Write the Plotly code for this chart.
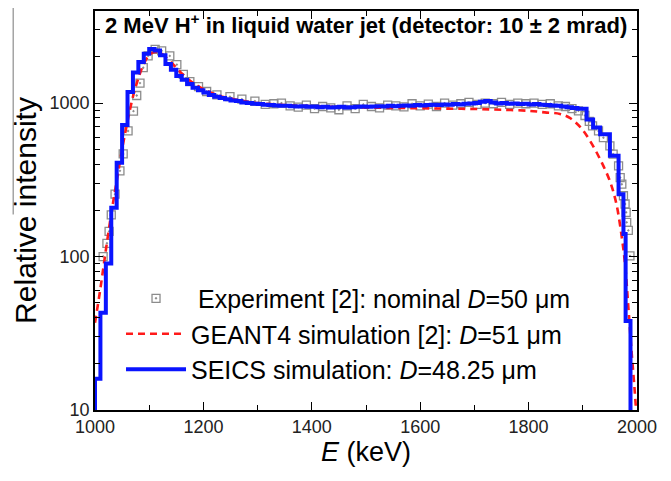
import plotly.graph_objects as go

# ---------------- data ----------------
# Experiment [2] (gray open squares)
exp_e = [1015, 1022, 1026, 1030, 1037, 1046, 1052, 1061, 1071, 1077, 1083, 1089, 1098,
         1111, 1123, 1138, 1151, 1163, 1175, 1191, 1206, 1225, 1249, 1271, 1295, 1314,
         1330, 1344, 1360, 1375, 1390, 1405, 1420, 1435, 1450, 1465, 1480, 1495, 1510,
         1525, 1540, 1555, 1570, 1585, 1600, 1615, 1630, 1645, 1660, 1675, 1690, 1705,
         1720, 1735, 1750, 1765, 1780, 1795, 1810, 1825, 1840, 1855, 1868, 1880, 1892,
         1904, 1912, 1918, 1929, 1938, 1950, 1956, 1966, 1969, 1972, 1975, 1978, 1980,
         1981, 1984, 1987]
exp_v = [100, 122, 146, 187, 255, 362, 466, 658, 886, 1120, 1350, 1700, 2030,
         2240, 2190, 2030, 1780, 1540, 1380, 1280, 1190, 1130, 1100, 1060, 1030, 980,
         990, 1000, 960, 940, 970, 920, 950, 930, 905, 960, 920, 980, 950,
         930, 970, 960, 945, 990, 960, 985, 950, 1000, 970, 990, 1010, 980,
         1000, 990, 1010, 980, 1000, 990, 1000, 980, 990, 960, 950, 920, 890,
         830, 760, 710, 658, 595, 526, 465, 390, 327, 296, 249, 220, 194,
         167, 148, 101]

# GEANT4 simulation [2] (red dashed)
g4_e = [1000, 1010, 1020, 1030, 1040, 1050, 1060, 1070, 1080, 1090, 1100, 1110, 1120,
        1130, 1140, 1150, 1160, 1170, 1180, 1190, 1200, 1225, 1250, 1275, 1300, 1350,
        1400, 1450, 1500, 1550, 1600, 1650, 1700, 1750, 1800, 1830, 1858, 1876, 1895,
        1913, 1932, 1950, 1962, 1972, 1978, 1984, 1990, 1996, 2000]
g4_v = [37, 62, 110, 190, 310, 500, 760, 1100, 1450, 1800, 2050, 2150, 2130,
        2000, 1850, 1700, 1560, 1450, 1360, 1290, 1230, 1130, 1070, 1030, 1000, 970,
        955, 945, 935, 930, 925, 920, 915, 905, 890, 870, 850, 800, 700,
        570, 430, 310, 220, 133, 89, 47, 24, 13, 8]

# SEICS simulation (blue histogram): bin left edges and contents
seics_e = [1000, 1010, 1020, 1030, 1040, 1050, 1060, 1070, 1080, 1090, 1100, 1110,
           1120, 1130, 1140, 1150, 1160, 1170, 1180, 1190, 1200, 1210, 1220, 1230,
           1240, 1250, 1260, 1270, 1280, 1290, 1300, 1310, 1320, 1330, 1340, 1350,
           1360, 1370, 1380, 1390, 1400, 1410, 1420, 1430, 1440, 1450, 1460, 1470,
           1480, 1490, 1500, 1510, 1520, 1530, 1540, 1550, 1560, 1570, 1580, 1590,
           1600, 1610, 1620, 1630, 1640, 1650, 1660, 1670, 1680, 1690, 1700, 1710,
           1720, 1730, 1740, 1750, 1760, 1770, 1780, 1790, 1800, 1810, 1820, 1830,
           1840, 1850, 1860, 1870, 1880, 1890, 1907, 1919, 1932, 1950, 1966, 1975,
           1979, 1988]
seics_v = [16, 43, 90, 208, 408, 720, 1180, 1580, 1850, 2100, 2250, 2200,
           2050, 1800, 1650, 1500, 1420, 1330, 1260, 1210, 1170, 1130, 1100, 1080,
           1060, 1040, 1030, 1010, 1000, 990, 985, 975, 970, 965, 960, 960,
           955, 950, 955, 945, 950, 940, 945, 935, 940, 945, 935, 940,
           945, 950, 945, 950, 955, 950, 960, 955, 960, 965, 960, 970,
           965, 970, 975, 970, 980, 975, 985, 980, 990, 995, 1000, 1020,
           1030, 1010, 995, 1000, 990, 995, 985, 990, 980, 985, 975, 970,
           965, 960, 950, 940, 930, 920, 783, 692, 627, 453, 255, 140,
           38, 1]

x_ticks = [1000, 1200, 1400, 1600, 1800, 2000]
x_minor = [1100, 1300, 1500, 1700, 1900]
y_ticks = [10, 100, 1000]
y_minor = [20, 30, 40, 50, 60, 70, 80, 90, 200, 300, 400, 500, 600, 700, 800, 900,
           2000, 3000]

FONT = "Arial, Liberation Sans, sans-serif"

fig = go.Figure()

fig.add_trace(go.Scatter(
    x=exp_e, y=exp_v, mode="markers",
    name="\u00a0Experiment [2]: nominal <i>D</i>=50 \u03bcm",
    marker=dict(symbol="square-open-dot", size=8, color="#8c8c8c",
                line=dict(width=1.3, color="#8c8c8c")),
))
fig.add_trace(go.Scatter(
    x=g4_e, y=g4_v, mode="lines", line_shape="spline",
    name="GEANT4 simulation [2]: <i>D</i>=51 \u03bcm",
    line=dict(color="#ff1a1a", width=2.6, dash="7px,5px"),
))
fig.add_trace(go.Scatter(
    x=[seics_e[0]] + seics_e, y=[1] + seics_v, mode="lines", line_shape="hv",
    name="SEICS simulation: <i>D</i>=48.25 \u03bcm",
    line=dict(color="#0a14ff", width=4),
))

axis_common = dict(
    showline=True, linecolor="black", linewidth=1.6, mirror="ticks",
    ticks="inside", ticklen=8, tickwidth=1.3, tickcolor="black",
    showgrid=False, zeroline=False,
    tickfont=dict(family=FONT, size=18, color="#222"),
)

fig.update_xaxes(
    range=[1000, 2000], tickvals=x_ticks,
    minor=dict(tickvals=x_minor, ticks="inside", ticklen=5, tickwidth=1.3, tickcolor="black"),
    title=dict(text="<i>E</i> (keV)", font=dict(family=FONT, size=27, color="black"), standoff=6),
    **axis_common,
)
fig.update_yaxes(
    type="log", range=[1, 3.6], tickvals=y_ticks, ticktext=[str(v) for v in y_ticks],
    minor=dict(tickvals=y_minor, ticks="inside", ticklen=5, tickwidth=1.3, tickcolor="black"),
    title=dict(text="Relative intensity", font=dict(family=FONT, size=30, color="black"), standoff=4),
    **axis_common,
)

fig.add_annotation(
    text="<b>2 MeV H<sup>+</sup> in liquid water jet (detector: 10 \u00b1 2 mrad)</b>",
    xref="paper", yref="paper", x=0.5, y=0.967, showarrow=False,
    font=dict(family=FONT, size=22, color="black"), xanchor="center", yanchor="middle",
)

fig.add_shape(type="line", xref="paper", yref="paper", x0=-0.151, x1=-0.151, y0=1.01, y1=0.49,
              line=dict(color="#777", width=1))

fig.update_layout(
    width=671, height=481,
    margin=dict(l=87, r=42, t=1, b=79),
    paper_bgcolor="white", plot_bgcolor="white",
    font=dict(family=FONT, color="black"),
    showlegend=True,
    legend=dict(x=0.048, y=0.337, xanchor="left", yanchor="top",
                bgcolor="rgba(0,0,0,0)", font=dict(family=FONT, size=25, color="black"),
                itemwidth=60, tracegroupgap=0),
)

fig.write_html("out.html")
